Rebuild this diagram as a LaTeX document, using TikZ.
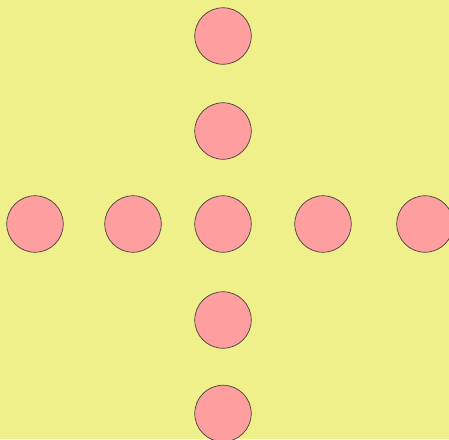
\documentclass[tikz,border=0pt]{standalone}
\usepackage{tikz}

\definecolor{bgyellow}{RGB}{240,240,138}
\definecolor{dotpink}{RGB}{255,158,158}

\begin{document}
\begin{tikzpicture}[
    x=1pt, y=-1pt,
    dot/.style={circle, draw=black!75, fill=dotpink, line width=0.7pt, minimum size=56.5pt, inner sep=0pt}
]
\fill[bgyellow] (0,0) rectangle (449,439);
\useasboundingbox (0,0) rectangle (449,439);
\clip (0,0) rectangle (449,439);

% vertical arm
\node[dot] (top) at (223,36) {};
\node[dot] (upper) at (223,131) {};
\node[dot] (centre) at (223,224) {};
\node[dot] (lower) at (223,320) {};
\node[dot] (bottom) at (223,413.5) {};

% horizontal arm
\node[dot] (farleft) at (35,224) {};
\node[dot] (left) at (133,224) {};
\node[dot] (right) at (323,224) {};
\node[dot] (farright) at (425,224) {};
\end{tikzpicture}
\end{document}
